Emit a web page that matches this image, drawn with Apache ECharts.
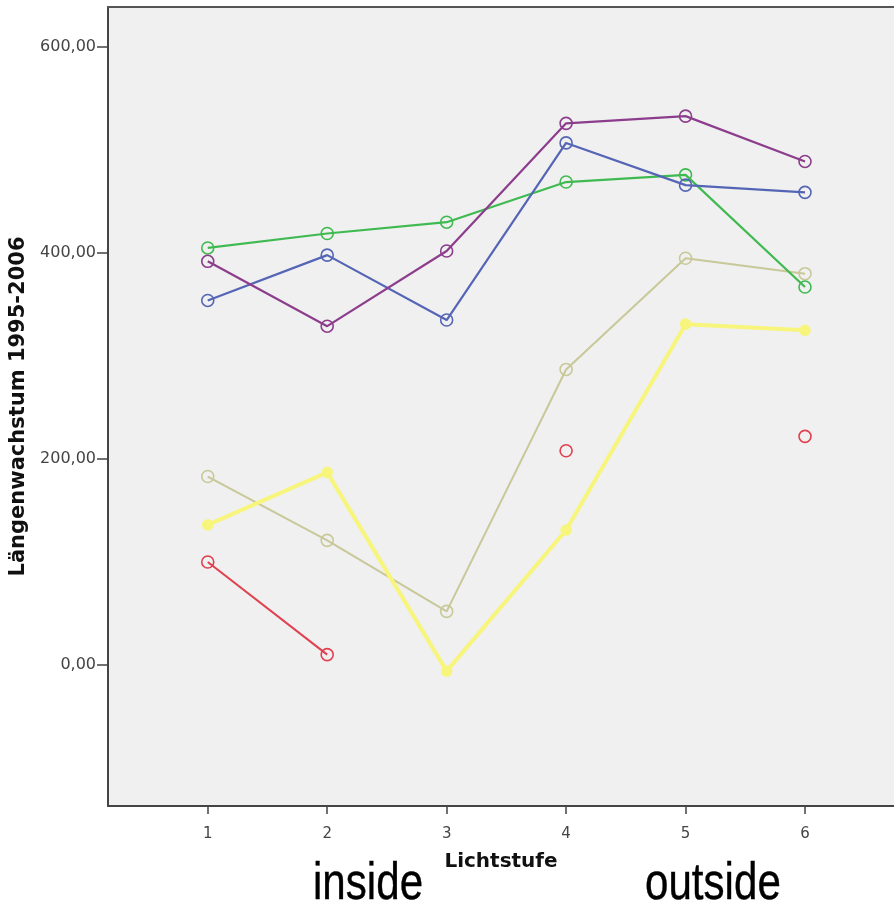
<!DOCTYPE html>
<html>
<head>
<meta charset="utf-8">
<script src="https://cdn.jsdelivr.net/npm/echarts@6/dist/echarts.min.js"></script>
<style>
html,body{margin:0;padding:0;background:#fff;}
#chart{width:894px;height:904px;}
</style>
</head>
<body>
<div id="chart"></div>
<script>
// Data
const lichtstufe = [1, 2, 3, 4, 5, 6];
const xTickValues = [1, 2, 3, 4, 5, 6];
const yTickValues = [0, 200, 400, 600];
const seriesGreen  = [405, 419, 430, 469, 476, 367];
const seriesPurple = [392, 329, 402, 526, 533, 489];
const seriesBlue   = [354, 398, 335, 507, 466, 459];
const seriesKhaki  = [183, 121, 52, 287, 395, 380];
const seriesYellow = [136, 187, -6, 131, 331, 325];
const seriesRed    = [100, 10, null, 208, null, 222];
const xAxisTitle = 'Lichtstufe';
const yAxisTitle = 'Längenwachstum 1995-2006';
const noteInside = 'inside';
const noteOutside = 'outside';

function pairs(vals) {
  return lichtstufe.map((x, i) => [x, vals[i]]);
}
function makeSeries(name, vals, color, lw, filled) {
  return {
    name: name,
    type: 'line',
    xAxisIndex: 0,
    data: pairs(vals),
    connectNulls: false,
    symbol: 'circle',
    symbolSize: filled ? 10 : 12,
    showSymbol: true,
    lineStyle: { color: color, width: lw },
    itemStyle: { color: filled ? color : 'rgba(0,0,0,0)', borderColor: color, borderWidth: 1.6 },
    emphasis: { disabled: true },
    animation: false
  };
}

const X_MIN = 0.165, X_MAX = 6.745;
const chart = echarts.init(document.getElementById('chart'), null, { renderer: 'canvas' });
const option = {
  backgroundColor: '#ffffff',
  animation: false,
  grid: {
    left: 108, top: 7, right: 0, bottom: 98,
    show: true, backgroundColor: '#f0f0f0', borderWidth: 0
  },
  xAxis: [{
    type: 'value',
    min: X_MIN, max: X_MAX,
    name: xAxisTitle,
    nameLocation: 'middle',
    nameGap: 46,
    nameTextStyle: { fontFamily: 'DejaVu Sans', fontWeight: 'bold', fontSize: 20, color: '#111' },
    axisLine: { show: true, onZero: false, lineStyle: { color: '#444', width: 2 } },
    axisTick: { show: true, length: 8, customValues: xTickValues, lineStyle: { color: '#444', width: 1.5 } },
    axisLabel: { customValues: xTickValues, margin: 21, fontFamily: 'DejaVu Sans', fontSize: 15, color: '#444',
      formatter: v => String(v) },
    splitLine: { show: false }
  }, {
    type: 'value',
    position: 'top',
    min: X_MIN, max: X_MAX,
    axisLine: { show: true, onZero: false, lineStyle: { color: '#555', width: 2 } },
    axisTick: { show: false },
    axisLabel: { show: false },
    splitLine: { show: false }
  }],
  yAxis: {
    type: 'value',
    min: -137, max: 639,
    name: yAxisTitle,
    nameLocation: 'middle',
    nameGap: 77,
    nameTextStyle: { fontFamily: 'DejaVu Sans', fontWeight: 'bold', fontSize: 21, color: '#111' },
    axisLine: { show: true, onZero: false, lineStyle: { color: '#444', width: 2 } },
    axisTick: { show: true, length: 11, customValues: yTickValues, lineStyle: { color: '#444', width: 1.5 } },
    axisLabel: { customValues: yTickValues, margin: 12, fontFamily: 'DejaVu Sans', fontSize: 16, color: '#444',
      formatter: v => v.toFixed(2).replace('.', ',') },
    splitLine: { show: false }
  },
  graphic: [
    { type: 'text', x: 313, y: 859, scaleX: 0.81, style: { text: noteInside, font: '52px "Liberation Sans", Arial, sans-serif', fill: '#000', stroke: '#000', lineWidth: 0.4 } },
    { type: 'text', x: 645, y: 859, scaleX: 0.81, style: { text: noteOutside, font: '52px "Liberation Sans", Arial, sans-serif', fill: '#000', stroke: '#000', lineWidth: 0.4 } }
  ],
  series: [
    makeSeries('khaki', seriesKhaki, '#c8c899', 2, false),
    makeSeries('yellow', seriesYellow, '#f7f57c', 4, true),
    makeSeries('red', seriesRed, '#e0404f', 2, false),
    makeSeries('green', seriesGreen, '#3fba50', 2.2, false),
    makeSeries('blue', seriesBlue, '#5565b5', 2.2, false),
    makeSeries('purple', seriesPurple, '#8c3d8c', 2.2, false)
  ]
};
chart.setOption(option);
</script>
</body>
</html>
